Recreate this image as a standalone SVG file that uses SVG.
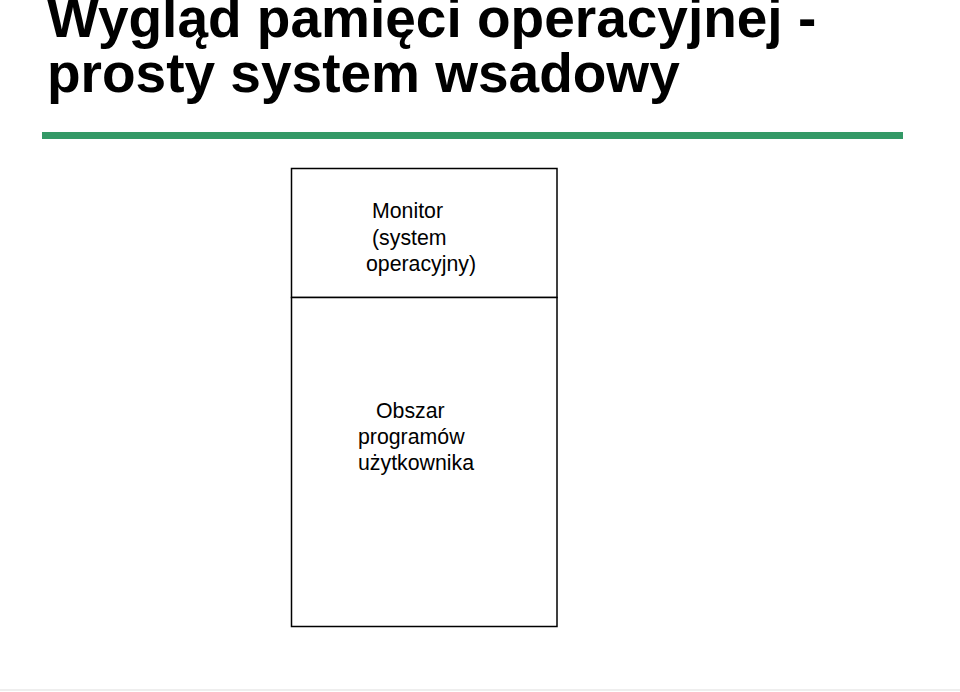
<svg xmlns="http://www.w3.org/2000/svg" width="960" height="692" viewBox="0 0 960 692">
<style>
.t{font-family:"Liberation Sans",Arial,sans-serif;font-weight:bold;font-size:55px;fill:#000}
.l{font-family:"Liberation Sans",Arial,sans-serif;font-size:21.3px;fill:#000}
.b{fill:#fff;stroke:#000;stroke-width:1.5}
</style>
<rect width="960" height="692" fill="#fff"/>
<text class="t" x="47" y="37">Wygląd pamięci operacyjnej -</text>
<text class="t" x="47" y="92">prosty system wsadowy</text>
<rect x="42" y="132" width="861" height="7" fill="#339966"/>
<g id="monitor">
<rect class="b" x="291.5" y="168.5" width="265.5" height="129"/>
<text class="l" x="372" y="218">Monitor</text>
<text class="l" x="372" y="245">(system</text>
<text class="l" x="366" y="271">operacyjny)</text>
</g>
<g id="obszar">
<rect class="b" x="291.5" y="297.5" width="265.5" height="329"/>
<text class="l" x="376" y="418">Obszar</text>
<text class="l" x="358" y="444">programów</text>
<text class="l" x="358" y="470">użytkownika</text>
</g>
<g id="connectors"/>
<line x1="0" y1="690" x2="960" y2="690" stroke="#eeeeee" stroke-width="2"/>
</svg>
